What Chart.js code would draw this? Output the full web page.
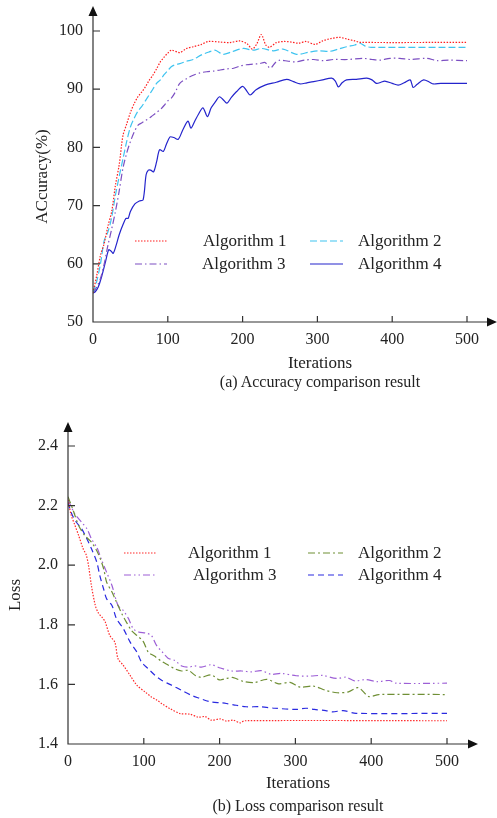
<!DOCTYPE html>
<html>
<head>
<meta charset="utf-8">
<script src="https://cdn.jsdelivr.net/npm/chart.js@4.4.1/dist/chart.umd.min.js"></script>
<style>
  html, body { margin: 0; padding: 0; background: #fff; }
  body { width: 497px; height: 818px; position: relative; overflow: hidden;
         font-family: 'Liberation Serif', 'Times New Roman', serif; color: #222; }
  canvas { position: absolute; left: 0; }
  .lbl { position: absolute; width: 300px; text-align: center; line-height: 20px; white-space: nowrap; }
</style>
</head>
<body>
<canvas id="chartAcc" width="497" height="360" style="top:0"></canvas>
<canvas id="chartLoss" width="497" height="380" style="top:400px"></canvas>
<div class="lbl" style="left:170px;top:353px;font-size:17px">Iterations</div>
<div class="lbl" style="left:170px;top:372px;font-size:16px">(a) Accuracy comparison result</div>
<div class="lbl" style="left:148px;top:773px;font-size:17px">Iterations</div>
<div class="lbl" style="left:148px;top:796px;font-size:16px">(b) Loss comparison result</div>
<script>
const labels = ['Algorithm 1', 'Algorithm 2', 'Algorithm 3', 'Algorithm 4'];

// (a) accuracy, %
const accIter1 = [0,5,10,15,20,25,30,35,40,45,50,55,60,65,70,75,80,85,90,95,100,105,116,125,134,145,154,170,183,196,206,213,219,225,231,236,245,255,265,275,285,297,307,318,330,340,350,357,500];
const acc1     = [55,58,61.5,63.5,66.5,69,73.5,77,82,84,86,87.5,88.7,89.5,90.4,91.5,92.4,93.5,94.7,95.5,96.2,96.7,96.3,97,97.3,97.7,98.2,98.1,98,98.3,97.8,96.9,97.8,99.4,97.6,97.2,98,98.2,98.1,97.9,98.2,97.7,98.3,98.7,98.9,98.6,98.3,98.05,98.05];

const accIter2 = [0,5,10,15,20,25,30,35,40,45,50,55,60,65,70,75,80,85,90,95,100,105,110,116,125,134,145,155,163,174,185,201,214,225,241,254,272,290,303,316,328,339,350,357,364,372,500];
const acc2     = [55,57,60,64,65.5,68,71.8,75,78,81,83.5,85,86.2,87,88,89,90,91,91.6,92.5,93.2,93.9,94.2,94.4,94.8,95.1,95.9,96.4,96.7,96,96.4,97,96.7,97,96.6,96.9,96,96.4,96.6,96.5,96.9,97.3,97.6,97.9,97.4,97.2,97.2];

const accIter3 = [0,5,10,15,20,25,30,35,40,45,50,55,60,65,70,75,80,85,90,95,100,105,110,116,125,134,143,152,161,170,180,188,197,205,214,223,230,237,244,250,261,272,283,295,308,321,340,361,373,384,397,410,425,446,460,475,500];
const acc3     = [55,56,57.5,60,63.2,66,69,72.5,76.4,79,81,82.6,83.8,84.2,84.6,85,85.5,86,86.5,87.2,88,88.5,89.5,91,91.8,92.4,92.8,93,93.1,93.3,93.5,93.6,94,94.2,94.3,94.4,94.6,93.6,94.6,95,94.8,94.7,95,95.1,94.9,95.1,95.1,95.3,95.1,95,95.3,95.3,95.1,95.3,94.9,95,94.9];

const accIter4 = [0,3,7,12,17,21,24,27,31,35,40,44,47,50,56,62,67,71,74,77,81,85,89,94,98,103,108,114,120,127,131,136,141,147,153,158,164,169,174,179,185,192,200,205,210,218,230,245,259,268,277,286,295,307,319,324,328,333,339,352,366,373,379,385,390,400,408,416,424,428,433,442,450,455,465,500];
const acc4     = [55,55.2,56,58,60.5,62.4,62.2,61.8,63.2,65,66.7,67.8,67.8,69,70.3,70.8,71,75.3,76.1,76.1,75.8,77.5,79.6,79.3,80.5,81.8,81.7,81.4,83,84.5,83.3,84.5,85.7,86.8,85.3,86.8,87.9,88.7,88.2,87.6,88.6,89.6,90.5,89.8,89,89.9,90.7,91.2,91.7,91.3,90.9,91.1,91.3,91.6,91.9,91.4,90.4,91.1,91.6,91.7,91.9,91.6,91,91.2,91.4,91,90.7,91.1,91.6,90.3,90.8,91.6,91.2,90.9,91,91];

// (b) loss
const lossIter1 = [0,4,9,14,20,24,27,31,36,40,45,49,55,62,66,73,82,91,102,110,117,124,135,148,161,172,181,189,201,209,218,227,233,500];
const loss1     = [2.22,2.17,2.135,2.10,2.055,2.035,2.0,1.93,1.865,1.84,1.825,1.81,1.765,1.74,1.686,1.664,1.63,1.597,1.574,1.558,1.548,1.535,1.518,1.502,1.50,1.49,1.492,1.48,1.484,1.477,1.48,1.471,1.478,1.478];

const lossIter2 = [0,7,14,22,31,40,47,51,58,64,71,77,84,91,99,106,114,122,132,141,150,159,168,176,189,200,209,218,231,246,262,278,293,306,324,340,355,370,383,397,410,500];
const loss2     = [2.23,2.183,2.133,2.10,2.077,2.038,1.988,1.943,1.91,1.876,1.837,1.809,1.78,1.764,1.745,1.708,1.695,1.68,1.665,1.652,1.645,1.647,1.63,1.624,1.632,1.615,1.62,1.623,1.61,1.606,1.617,1.602,1.607,1.591,1.594,1.58,1.572,1.575,1.589,1.559,1.566,1.566];

const lossIter3 = [0,9,18,25,31,38,44,51,58,66,73,80,86,93,103,110,117,124,132,141,150,159,167,176,189,201,216,229,242,255,268,281,301,319,336,354,367,378,393,408,424,433,500];
const loss3     = [2.22,2.172,2.144,2.122,2.088,2.06,2.02,1.976,1.932,1.865,1.848,1.82,1.787,1.776,1.772,1.764,1.73,1.71,1.688,1.68,1.662,1.658,1.662,1.658,1.666,1.655,1.645,1.645,1.642,1.646,1.634,1.637,1.629,1.628,1.63,1.62,1.624,1.612,1.616,1.609,1.613,1.604,1.604];

const lossIter4 = [0,5,11,18,25,31,38,42,47,51,58,64,73,82,91,97,106,115,124,137,150,163,174,187,203,209,222,235,253,273,301,314,325,340,349,363,380,500];
const loss4     = [2.21,2.172,2.144,2.122,2.088,2.055,2.01,1.965,1.92,1.887,1.865,1.82,1.787,1.742,1.708,1.675,1.652,1.63,1.613,1.597,1.58,1.563,1.553,1.542,1.538,1.536,1.53,1.525,1.525,1.52,1.516,1.52,1.516,1.512,1.508,1.512,1.503,1.503];

const xTicks = [0, 100, 200, 300, 400, 500];

const FONT = '"Liberation Serif", "Times New Roman", serif';
const pts = (xs, ys) => xs.map((x, i) => ({ x, y: ys[i] }));

function line(label, xs, ys, color, dash) {
  return {
    label, data: pts(xs, ys),
    borderColor: color, borderWidth: 1.2, borderDash: dash,
    pointRadius: 0, tension: 0.3, fill: false,
  };
}

// axes drawn by hand: arrows and inward ticks, like the figure
const axesArrows = {
  id: 'axesArrows',
  afterDraw(chart, args, o) {
    const { ctx, chartArea: a, scales: { x, y } } = chart;
    ctx.save();
    ctx.strokeStyle = '#333';
    ctx.fillStyle = '#111';
    ctx.lineWidth = 1.2;
    ctx.beginPath();
    ctx.moveTo(a.left, o.yTip + 8);
    ctx.lineTo(a.left, a.bottom);
    ctx.lineTo(o.xTip - 8, a.bottom);
    x.ticks.forEach(t => {
      if (t.value === x.min) return;
      const px = x.getPixelForValue(t.value);
      ctx.moveTo(px, a.bottom); ctx.lineTo(px, a.bottom - 6);
    });
    y.ticks.forEach(t => {
      if (t.value === y.min) return;
      const py = y.getPixelForValue(t.value);
      ctx.moveTo(a.left, py); ctx.lineTo(a.left + 7, py);
    });
    ctx.stroke();
    ctx.beginPath();
    ctx.moveTo(a.left, o.yTip); ctx.lineTo(a.left - 4.5, o.yTip + 10); ctx.lineTo(a.left + 4.5, o.yTip + 10);
    ctx.closePath();
    ctx.moveTo(o.xTip, a.bottom); ctx.lineTo(o.xTip - 10, a.bottom - 4.5); ctx.lineTo(o.xTip - 10, a.bottom + 4.5);
    ctx.closePath();
    ctx.fill();
    ctx.restore();
  }
};

const algoLegend = {
  id: 'algoLegend',
  afterDatasetsDraw(chart, args, o) {
    const { ctx } = chart;
    ctx.save();
    ctx.font = `17px ${FONT}`;
    ctx.textBaseline = 'middle';
    ctx.fillStyle = '#222';
    chart.data.datasets.forEach((ds, i) => {
      const s = o.slots[i];
      ctx.strokeStyle = ds.borderColor;
      ctx.lineWidth = ds.borderWidth;
      ctx.setLineDash(ds.borderDash || []);
      ctx.beginPath(); ctx.moveTo(s.x0, s.y); ctx.lineTo(s.x1, s.y); ctx.stroke();
      ctx.setLineDash([]);
      ctx.fillText(ds.label, s.tx, s.y + 1);
    });
    ctx.restore();
  }
};

function build(id, datasets, y, layout) {
  return new Chart(document.getElementById(id), {
    type: 'line',
    data: { datasets },
    plugins: [axesArrows, algoLegend],
    options: {
      responsive: false,
      animation: false,
      layout: { padding: layout.padding },
      plugins: {
        legend: { display: false },
        tooltip: { enabled: false },
        axesArrows: layout.arrows,
        algoLegend: { slots: layout.slots },
      },
      scales: {
        x: {
          type: 'linear', min: 0, max: 500,
          afterBuildTicks: s => { s.ticks = xTicks.map(v => ({ value: v })); },
          afterFit: s => { s.height = layout.xHeight; },
          grid: { display: false, drawTicks: false },
          border: { display: false },
          ticks: { color: '#222', padding: 8, font: { family: FONT, size: 16 } },
        },
        y: {
          type: 'linear', min: y.min, max: y.max,
          afterBuildTicks: s => { s.ticks = y.ticks.map(v => ({ value: v })); },
          afterFit: s => { s.width = layout.yWidth; },
          grid: { display: false, drawTicks: false },
          border: { display: false },
          ticks: { color: '#222', padding: 10, font: { family: FONT, size: 16 }, callback: y.fmt },
          title: { display: true, text: y.title, color: '#222', font: { family: FONT, size: 17 } },
        },
      },
    },
  });
}

build('chartAcc', [
  line(labels[0], accIter1, acc1, '#ff1f1f', [1.5, 1.5]),
  line(labels[1], accIter2, acc2, '#3fc4f0', [7, 3]),
  line(labels[2], accIter3, acc3, '#7c4fc2', [7, 3, 1.5, 3]),
  line(labels[3], accIter4, acc4, '#2424cc', []),
], {
  min: 50, max: 100, ticks: [50, 60, 70, 80, 90, 100], title: 'ACcuracy(%)', fmt: v => String(v),
}, {
  padding: { left: 28, right: 30, top: 31, bottom: 0 },
  yWidth: 65, xHeight: 38,
  arrows: { yTip: 6, xTip: 497 },
  slots: [
    { x0: 135, x1: 167, y: 241, tx: 203 },
    { x0: 310, x1: 343, y: 241, tx: 358 },
    { x0: 135, x1: 167, y: 264, tx: 202 },
    { x0: 310, x1: 343, y: 264, tx: 358 },
  ],
});

build('chartLoss', [
  line(labels[0], lossIter1, loss1, '#ff2a2a', [1.5, 1.5]),
  line(labels[1], lossIter2, loss2, '#6f8f35', [7, 3, 2, 3]),
  line(labels[2], lossIter3, loss3, '#9d5fd6', [7, 3, 1.5, 3, 1.5, 3]),
  line(labels[3], lossIter4, loss4, '#2a2ae0', [6, 4]),
], {
  min: 1.4, max: 2.4, ticks: [1.4, 1.6, 1.8, 2.0, 2.2, 2.4], title: 'Loss', fmt: v => v.toFixed(1),
}, {
  padding: { left: 1, right: 50, top: 46, bottom: 0 },
  yWidth: 67, xHeight: 36,
  arrows: { yTip: 22, xTip: 478 },
  slots: [
    { x0: 124, x1: 157, y: 153, tx: 188 },
    { x0: 308, x1: 343, y: 153, tx: 358 },
    { x0: 124, x1: 157, y: 175, tx: 193 },
    { x0: 308, x1: 343, y: 175, tx: 358 },
  ],
});
</script>
</body>
</html>
